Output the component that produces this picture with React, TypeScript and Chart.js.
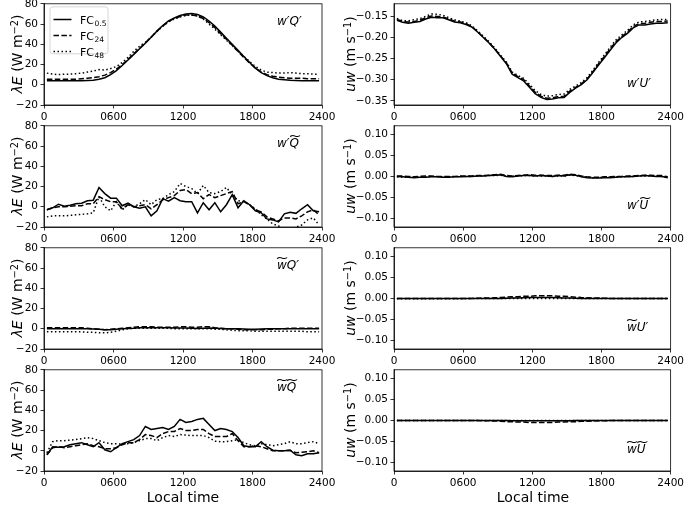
import React, { useEffect, useRef } from 'react';
import { Chart, registerables } from 'chart.js';
Chart.register(...registerables);

// ---------------- data ----------------
const TIME_H = [0.25, 0.75, 1.25, 1.75, 2.25, 2.75, 3.25, 3.75, 4.25, 4.75, 5.25, 5.75, 6.25, 6.75, 7.25, 7.75,
  8.25, 8.75, 9.25, 9.75, 10.25, 10.75, 11.25, 11.75, 12.25, 12.75, 13.25, 13.75, 14.25, 14.75, 15.25, 15.75,
  16.25, 16.75, 17.25, 17.75, 18.25, 18.75, 19.25, 19.75, 20.25, 20.75, 21.25, 21.75, 22.25, 22.75, 23.25, 23.75];

const X_TICKS = [0, 6, 12, 18, 24];
const X_TICK_LABELS = ['0', '0600', '1200', '1800', '2400'];
const LE_TICKS = [-20, 0, 20, 40, 60, 80];
const UW_TICKS_TOP = [-0.35, -0.3, -0.25, -0.2, -0.15];
const UW_TICKS = [-0.1, -0.05, 0, 0.05, 0.1];
const LEGEND_BASE = 'FC';
const LEGEND_SUBS = ['0.5', '24', '48'];

// w'Q'
const WQ_PP_05 = [4, 4, 4, 4, 4, 4, 4, 4.2, 4.5, 5.5, 7, 10, 14, 19, 24.5, 30, 35.5, 41, 47, 53, 58.5, 63, 66, 68.5,
  70, 70.5, 69.5, 67, 63, 58, 52, 46, 40, 34, 28, 22, 16.5, 12, 9, 7, 5.5, 5, 4.5, 4.2, 4, 4, 4, 4];
const WQ_PP_24 = [5.5, 5.5, 5.5, 5.5, 5.5, 5.5, 6, 6.5, 7, 8, 9.5, 12, 15.5, 20, 25, 30.5, 36, 41.5, 47, 53, 58, 62.5, 65.5, 67.5,
  69, 69, 68, 65.5, 61.5, 56.5, 50.5, 45, 39, 33, 27, 21.5, 16.5, 12.5, 10, 8.5, 7.5, 7, 6.5, 6.5, 6.5, 6, 6, 6];
const WQ_PP_48 = [11.5, 10.5, 10, 10.5, 10.5, 11, 11.5, 12.5, 13.5, 15, 14.5, 16, 18, 22, 27, 33, 38, 42, 47, 52.5, 58, 62, 65, 67,
  68.5, 69, 68, 65, 60, 55, 49.5, 44, 38.5, 33, 28, 23, 18, 14.5, 12.5, 12, 11.5, 11.5, 12, 11.5, 11, 11, 10.5, 10.5];

// w'Q~
const WQ_PT_05 = [-3, -1, 2.5, 0.5, 1.5, 3, 3.5, 6, 6.5, 19, 13, 8.5, 8.5, 1, 3.5, 0, -1.5, 0, -9, -4, 8, 5.5, 9, 6,
  5, 5, -6, 4, -3, 4, -5, 2, 12, -1, 6, 2, -4, -6, -12, -13, -15, -7, -5.5, -6.5, -2, 2, -4, -5];
const WQ_PT_24 = [-3, -1, 0, 0, 0.5, 1, 1, 3, 3, 10, 7, 5, 5, -2, 2, 0, 1, 2, -2, 2, 7, 9, 11, 16,
  17, 13, 14, 8, 12, 9, 11, 13, 15, 3, 5, 2, -3, -5, -10, -12, -14, -11, -11, -12, -9, -5, -3, -8];
const WQ_PT_48 = [-10, -9, -9, -9, -8.5, -8, -7.5, -7, -6, 10, 0, -4, 5, -3, 2, 0, 3, 7, 2, 7, 8, 12, 15, 23,
  20, 18, 13, 21, 14, 13, 15, 19, 12, 6, 5, 2, -2, -8, -12, -17, -19, -22, -22, -20, -18, -13, -11, -18];

// w~Q'
const WQ_TP_05 = [0, 0, 0, 0, 0, 0, 0, 0, -0.3, -0.5, -1, -1, -0.5, 0, 0.3, 0.5, 1, 1, 1, 1, 1, 1, 0.8, 0.8,
  0.8, 0.5, 0.3, 0.5, 0.8, 0.5, 0.3, 0, 0, 0, -0.3, -0.5, -0.5, -0.3, 0, 0, 0, 0, 0, 0, 0, 0, 0, 0];
const WQ_TP_24 = [1, 1, 1, 1, 1, 1, 1, 0.5, 0, -0.5, -1, -0.5, 0, 0.5, 1, 1.5, 2, 2, 2, 1.5, 1.5, 1.5, 1.5, 2,
  2, 1.5, 1.5, 2, 2, 1, 0.5, 0, 0, -0.5, -1, -1, -1, -1, -0.5, -0.5, 0, 0, 0.5, 0.5, 0.5, 0.5, 0.5, 0.5];
const WQ_TP_48 = [-3, -3, -3, -3, -3, -3, -3, -3.5, -3.5, -4, -4, -3.5, -2.5, -1, 0, 0.5, 0.5, 0.5, 0.5, 0.5, 0.5, 0.5, 0, 0,
  0, 0, 0, 0, 0, -0.5, -0.5, -1, -1.5, -2, -2, -2, -2.5, -2.5, -2.5, -2.5, -2.5, -2.5, -2.5, -2.5, -2.5, -3, -3, -3];

// w~Q~
const WQ_TT_05 = [-4, 4, 3.5, 4, 6, 7, 8, 6, 4, 8, 1, -1, 3, 7, 9, 11, 15, 24, 21, 22, 23, 21, 24, 31,
  28, 29, 31, 32, 26, 20, 22, 21, 19, 13, 5, 4, 4, 9, 4, 0.5, 0, 0, 0.5, -4, -5, -3, -3, -2];
const WQ_TT_24 = [-4, 3, 4, 3, 4, 5, 6, 7, 5, 4, 2, 2, 3, 6, 8, 8, 11, 16, 15, 13, 17, 19, 19, 22,
  20, 20, 21, 21, 17, 14, 14, 14, 17, 10, 4, 4, 5, 4, 2, 0, 0, 0, 0.5, -2, -1.5, -1, 0, -2];
const WQ_TT_48 = [-2, 9, 10, 10, 10.5, 11, 12, 13, 12, 10, 8, 7, 7, 6.5, 7, 8, 10, 12, 12, 10, 13, 15, 14, 16,
  15.5, 15, 15, 15, 13, 9.5, 9, 9, 10, 11, 8, 6, 5, 7, 6, 5, 6, 7, 9, 7, 7, 8, 9, 7];

// w'U'
const WU_PP_05 = [-0.159, -0.164, -0.166, -0.164, -0.162, -0.156, -0.152, -0.153, -0.153, -0.158, -0.163, -0.165,
  -0.169, -0.175, -0.187, -0.2, -0.213, -0.228, -0.245, -0.262, -0.287, -0.295, -0.303, -0.318,
  -0.333, -0.342, -0.347, -0.346, -0.343, -0.342, -0.33, -0.32, -0.312, -0.3, -0.283, -0.265,
  -0.248, -0.23, -0.213, -0.2, -0.19, -0.177, -0.17, -0.17, -0.168, -0.166, -0.166, -0.165];
const WU_PP_24 = [-0.157, -0.162, -0.163, -0.162, -0.159, -0.153, -0.149, -0.15, -0.151, -0.156, -0.161, -0.163,
  -0.167, -0.174, -0.186, -0.199, -0.212, -0.227, -0.244, -0.26, -0.284, -0.293, -0.3, -0.315,
  -0.33, -0.339, -0.344, -0.343, -0.34, -0.339, -0.327, -0.318, -0.31, -0.298, -0.281, -0.262,
  -0.245, -0.227, -0.21, -0.198, -0.187, -0.174, -0.167, -0.166, -0.164, -0.162, -0.162, -0.161];
const WU_PP_48 = [-0.155, -0.16, -0.16, -0.158, -0.155, -0.15, -0.144, -0.145, -0.147, -0.153, -0.158, -0.161,
  -0.165, -0.172, -0.184, -0.197, -0.21, -0.225, -0.242, -0.258, -0.282, -0.29, -0.297, -0.311,
  -0.326, -0.335, -0.339, -0.338, -0.335, -0.334, -0.323, -0.315, -0.307, -0.295, -0.278, -0.259,
  -0.241, -0.223, -0.206, -0.194, -0.183, -0.17, -0.163, -0.162, -0.16, -0.158, -0.157, -0.157];

// w'U~
const WU_PT_05 = [0, -0.001, -0.002, -0.003, -0.002, -0.002, -0.001, -0.001, -0.002, -0.002, -0.001, -0.001,
  0, 0, 0.001, 0.001, 0.002, 0.003, 0.004, 0, -0.001, 0.001, 0.002, 0.002,
  0.001, 0.002, 0.001, 0, 0.002, 0.001, 0.004, 0.003, -0.001, -0.003, -0.004, -0.004,
  -0.003, -0.003, -0.002, -0.001, -0.001, 0, 0.001, 0.002, 0.001, 0, 0, -0.003];
const WU_PT_24 = [0.001, 0.001, 0, -0.001, 0, 0.001, 0.001, 0, 0, 0, 0, 0.001,
  0.001, 0.001, 0.002, 0.002, 0.003, 0.004, 0.005, 0.002, 0.001, 0.002, 0.003, 0.004,
  0.003, 0.003, 0.002, 0.002, 0.003, 0.003, 0.005, 0.004, 0.001, -0.001, -0.002, -0.002,
  -0.001, -0.001, 0, 0, 0.001, 0.001, 0.002, 0.003, 0.003, 0.002, 0.002, -0.001];
const WU_PT_48 = [-0.001, -0.002, -0.002, -0.002, -0.001, -0.001, 0, -0.001, -0.001, -0.001, -0.001, 0,
  0, 0, 0.001, 0.001, 0.002, 0.002, 0.003, 0, 0, 0.001, 0.002, 0.002,
  0.001, 0.001, 0.001, 0, 0.001, 0.001, 0.003, 0.002, 0, -0.002, -0.003, -0.003,
  -0.002, -0.002, -0.001, -0.001, 0, 0, 0.001, 0.001, 0.001, 0.001, 0, -0.002];

// w~U'
const WU_TP_05 = [0, 0, 0, 0, 0, 0, 0, 0, 0, 0, 0, 0, 0, 0, 0, 0, 0, 0, 0, 0.0005, 0.001, 0.001, 0.0015, 0.002,
  0.002, 0.002, 0.002, 0.002, 0.0015, 0.001, 0.001, 0.0005, 0, 0, 0, 0, 0, 0, 0, 0, 0, 0, 0, 0, 0, 0, 0, 0];
const WU_TP_24 = [0, 0, 0, 0, 0, 0, 0, 0, 0, 0, 0, 0, 0, 0, 0.0005, 0.001, 0.001, 0.0015, 0.002, 0.003, 0.004, 0.004, 0.005, 0.005,
  0.006, 0.006, 0.006, 0.006, 0.005, 0.005, 0.004, 0.003, 0.002, 0.0015, 0.001, 0.001, 0.0005, 0, 0, 0, 0, 0, 0, 0, 0, 0, 0, 0];
const WU_TP_48 = [-0.001, -0.001, -0.001, -0.001, -0.001, -0.001, -0.001, -0.001, -0.001, -0.001, -0.001, -0.001,
  -0.0005, -0.0005, -0.0005, 0, 0, 0, 0, 0, 0, 0, 0, 0, 0, 0, 0, 0, 0, 0, 0, 0, 0, -0.0005, -0.0005, -0.0005,
  -0.0005, -0.0005, -0.0005, -0.0005, -0.0005, -0.0005, -0.0005, -0.0005, -0.0005, -0.0005, -0.0005, -0.0005];

// w~U~
const WU_TT_05 = [0, 0, 0, 0, 0, 0, 0, 0, 0, 0, 0, 0, 0, 0, 0, 0, 0, 0, 0, -0.0005, -0.001, -0.001, -0.001, -0.001,
  -0.001, -0.001, -0.001, -0.001, -0.001, -0.001, -0.001, -0.0005, 0, 0, 0, 0, 0, 0, 0, 0, 0, 0, 0, 0, 0, 0, 0, 0];
const WU_TT_24 = [0, 0, 0, 0, 0, 0, 0, 0, 0, 0, 0, 0, 0, 0, -0.0005, -0.001, -0.001, -0.0015, -0.002, -0.003, -0.003, -0.004, -0.004, -0.005,
  -0.005, -0.005, -0.005, -0.005, -0.004, -0.004, -0.003, -0.003, -0.002, -0.002, -0.0015, -0.001, -0.001, -0.0005, 0, 0, 0, 0, 0, 0, 0, 0, 0, 0];
const WU_TT_48 = [0, 0, 0, 0, 0, 0, 0, 0, 0, 0, 0, 0, 0, 0, 0, 0, 0, 0, 0, 0, -0.0005, -0.0005, -0.0005, -0.0005,
  -0.0005, -0.0005, -0.0005, -0.0005, -0.0005, -0.0005, 0, 0, 0, 0, 0, 0, 0, 0, 0, 0, 0, 0, 0, 0, 0, 0, 0, 0];

// ---------------- layout / style ----------------
const FONT = "'DejaVu Sans', 'Liberation Sans', sans-serif";
const DASHES = [[], [5.5, 2.4], [1.5, 2.5]];
const ROW_TOPS = [3, 125, 247, 369];
const COL_LEFTS = [44, 394];
const PLOT_W = 278;
const PLOT_H = 102;
const Y_AXIS_W = 44;
const PAD_TOP = 8;
const X_AXIS_H = 22;

type PanelCfg = {
  row: number;
  col: number;
  series: number[][];
  min: number;
  max: number;
  ticks: number[];
  decimals: number;
  legend?: boolean;
};

const PANELS: PanelCfg[] = [
  { row: 0, col: 0, series: [WQ_PP_05, WQ_PP_24, WQ_PP_48], min: -20, max: 80, ticks: LE_TICKS, decimals: 0, legend: true },
  { row: 0, col: 1, series: [WU_PP_05, WU_PP_24, WU_PP_48], min: -0.36, max: -0.12, ticks: UW_TICKS_TOP, decimals: 2 },
  { row: 1, col: 0, series: [WQ_PT_05, WQ_PT_24, WQ_PT_48], min: -20, max: 80, ticks: LE_TICKS, decimals: 0 },
  { row: 1, col: 1, series: [WU_PT_05, WU_PT_24, WU_PT_48], min: -0.12, max: 0.12, ticks: UW_TICKS, decimals: 2 },
  { row: 2, col: 0, series: [WQ_TP_05, WQ_TP_24, WQ_TP_48], min: -20, max: 80, ticks: LE_TICKS, decimals: 0 },
  { row: 2, col: 1, series: [WU_TP_05, WU_TP_24, WU_TP_48], min: -0.12, max: 0.12, ticks: UW_TICKS, decimals: 2 },
  { row: 3, col: 0, series: [WQ_TT_05, WQ_TT_24, WQ_TT_48], min: -20, max: 80, ticks: LE_TICKS, decimals: 0 },
  { row: 3, col: 1, series: [WU_TT_05, WU_TT_24, WU_TT_48], min: -0.12, max: 0.12, ticks: UW_TICKS, decimals: 2 },
];

const fmt = (v: number, d: number) => {
  const s = Math.abs(v) < 1e-9 ? (0).toFixed(d) : v.toFixed(d);
  return s.replace('-', '\u2212');
};

const framePlugin = {
  id: 'frame',
  afterDraw(chart: any) {
    const { ctx, chartArea: a } = chart;
    ctx.save();
    ctx.strokeStyle = '#000';
    ctx.lineWidth = 0.8;
    ctx.strokeRect(a.left, a.top, a.right - a.left, a.bottom - a.top);
    ctx.restore();
  },
};

const legendPlugin = {
  id: 'fcLegend',
  afterDraw(chart: any) {
    const { ctx, chartArea: a } = chart;
    const x0 = a.left + 6;
    const y0 = a.top + 3;
    const w = 58;
    const h = 47;
    const r = 3;
    ctx.save();
    ctx.beginPath();
    ctx.moveTo(x0 + r, y0);
    ctx.lineTo(x0 + w - r, y0);
    ctx.quadraticCurveTo(x0 + w, y0, x0 + w, y0 + r);
    ctx.lineTo(x0 + w, y0 + h - r);
    ctx.quadraticCurveTo(x0 + w, y0 + h, x0 + w - r, y0 + h);
    ctx.lineTo(x0 + r, y0 + h);
    ctx.quadraticCurveTo(x0, y0 + h, x0, y0 + h - r);
    ctx.lineTo(x0, y0 + r);
    ctx.quadraticCurveTo(x0, y0, x0 + r, y0);
    ctx.closePath();
    ctx.fillStyle = 'rgba(255,255,255,0.8)';
    ctx.fill();
    ctx.strokeStyle = '#cccccc';
    ctx.lineWidth = 0.8;
    ctx.stroke();
    chart.data.datasets.forEach((ds: any, i: number) => {
      const y = y0 + 12.7 + i * 16;
      ctx.beginPath();
      ctx.setLineDash(ds.borderDash || []);
      ctx.strokeStyle = '#000';
      ctx.lineWidth = 1.5;
      ctx.moveTo(x0 + 3.5, y);
      ctx.lineTo(x0 + 21.5, y);
      ctx.stroke();
      ctx.setLineDash([]);
      ctx.fillStyle = '#000';
      ctx.textBaseline = 'alphabetic';
      ctx.textAlign = 'left';
      ctx.font = `11px ${FONT}`;
      const tx = x0 + 30;
      ctx.fillText(LEGEND_BASE, tx, y + 4);
      const bw = ctx.measureText(LEGEND_BASE).width;
      ctx.font = `7.5px ${FONT}`;
      ctx.fillText(LEGEND_SUBS[i], tx + bw + 0.5, y + 6);
    });
    ctx.restore();
  },
};

function Panel({ cfg }: { cfg: PanelCfg }) {
  const ref = useRef<HTMLCanvasElement | null>(null);
  const plotLeft = COL_LEFTS[cfg.col];
  const plotTop = ROW_TOPS[cfg.row];
  const canvasLeft = plotLeft - Y_AXIS_W;
  const canvasTop = plotTop - PAD_TOP;
  const padRight = cfg.col === 0 ? 18 : 14;
  const width = Y_AXIS_W + PLOT_W + padRight;
  const height = PAD_TOP + PLOT_H + X_AXIS_H;

  useEffect(() => {
    if (!ref.current) return;
    const tickFont = { family: FONT, size: 10.5 };
    const axisGrid = { display: true, drawOnChartArea: false, drawTicks: true, tickLength: 3.5, color: '#000', lineWidth: 0.8 };
    const axisBorder = { display: true, color: '#000', width: 0.8 };
    const chart = new Chart(ref.current, {
      type: 'line',
      data: {
        datasets: cfg.series.map((vals, i) => ({
          label: LEGEND_BASE + LEGEND_SUBS[i],
          data: TIME_H.map((t, j) => ({ x: t, y: vals[j] })),
          borderColor: '#000',
          borderWidth: 1.5,
          borderDash: DASHES[i],
          pointRadius: 0,
          fill: false,
          tension: 0,
        })),
      },
      options: {
        animation: false,
        responsive: false,
        events: [],
        layout: { padding: { top: PAD_TOP, right: padRight, left: 0, bottom: 0 } },
        plugins: { legend: { display: false }, tooltip: { enabled: false } },
        scales: {
          x: {
            type: 'linear',
            min: 0,
            max: 24,
            afterBuildTicks: (s: any) => {
              s.ticks = X_TICKS.map((v) => ({ value: v }));
            },
            afterFit: (s: any) => {
              s.height = X_AXIS_H;
            },
            ticks: {
              callback: (_v: any, idx: number) => X_TICK_LABELS[idx],
              font: tickFont,
              color: '#000',
              padding: 2,
              maxRotation: 0,
              autoSkip: false,
            },
            grid: axisGrid,
            border: axisBorder,
          },
          y: {
            type: 'linear',
            min: cfg.min,
            max: cfg.max,
            afterBuildTicks: (s: any) => {
              s.ticks = cfg.ticks.map((v) => ({ value: v }));
            },
            afterFit: (s: any) => {
              s.width = Y_AXIS_W;
            },
            ticks: {
              callback: (v: any) => fmt(Number(v), cfg.decimals),
              font: tickFont,
              color: '#000',
              padding: 2.5,
              autoSkip: false,
            },
            grid: axisGrid,
            border: axisBorder,
          },
        },
      } as any,
      plugins: cfg.legend ? [framePlugin, legendPlugin] : [framePlugin],
    });
    return () => chart.destroy();
  }, []);

  return (
    <canvas
      ref={ref}
      width={width}
      height={height}
      style={{ position: 'absolute', left: canvasLeft, top: canvasTop, width, height }}
    />
  );
}

const Tl = ({ c }: { c: string }) => (
  <span style={{ position: 'relative', display: 'inline-block' }}>
    {c}
    <span
      style={{
        position: 'absolute',
        left: 0,
        right: 0,
        top: '-0.62em',
        textAlign: 'center',
        fontStyle: 'normal',
        transform: 'scaleX(1.35)',
      }}
    >
      ~
    </span>
  </span>
);

const PANEL_LABELS: React.ReactNode[] = [
  <span>w′Q′</span>,
  <span>w′U′</span>,
  <span>w′<Tl c="Q" /></span>,
  <span>w′<Tl c="U" /></span>,
  <span><Tl c="w" />Q′</span>,
  <span><Tl c="w" />U′</span>,
  <span><Tl c="w" /><Tl c="Q" /></span>,
  <span><Tl c="w" /><Tl c="U" /></span>,
];

const yTitleLeft = (
  <span>
    <i>λE</i> (W m<sup style={{ fontSize: '0.7em', verticalAlign: '0.45em', lineHeight: 0 }}>−2</sup>)
  </span>
);
const yTitleRight = (
  <span>
    <i>uw</i> (m s<sup style={{ fontSize: '0.7em', verticalAlign: '0.45em', lineHeight: 0 }}>−1</sup>)
  </span>
);

export default function App() {
  return (
    <div
      style={{
        position: 'fixed',
        left: 0,
        top: 0,
        width: 685,
        height: 506,
        background: '#fff',
        overflow: 'hidden',
        fontFamily: FONT,
        color: '#000',
      }}
    >
      {PANELS.map((p, i) => (
        <Panel key={i} cfg={p} />
      ))}
      {PANELS.map((p, i) => {
        const left = COL_LEFTS[p.col] + 233;
        const cy = ROW_TOPS[p.row] + (p.col === 0 ? 18 : 80);
        return (
          <div
            key={'l' + i}
            style={{
              position: 'absolute',
              left,
              top: cy,
              transform: 'translateY(-50%)',
              fontStyle: 'italic',
              fontSize: 12,
              whiteSpace: 'nowrap',
              lineHeight: 1,
            }}
          >
            {PANEL_LABELS[i]}
          </div>
        );
      })}
      {ROW_TOPS.map((t, r) =>
        [0, 1].map((c) => (
          <div
            key={'t' + r + c}
            style={{
              position: 'absolute',
              left: c === 0 ? 17 : 350,
              top: t + PLOT_H / 2,
              transform: 'translate(-50%, -50%) rotate(-90deg)',
              fontSize: 14,
              whiteSpace: 'nowrap',
              lineHeight: 1,
            }}
          >
            {c === 0 ? yTitleLeft : yTitleRight}
          </div>
        ))
      )}
      {[0, 1].map((c) => (
        <div
          key={'x' + c}
          style={{
            position: 'absolute',
            left: COL_LEFTS[c] + PLOT_W / 2,
            top: 497,
            transform: 'translate(-50%, -50%)',
            fontSize: 14,
            whiteSpace: 'nowrap',
            lineHeight: 1,
          }}
        >
          Local time
        </div>
      ))}
    </div>
  );
}
